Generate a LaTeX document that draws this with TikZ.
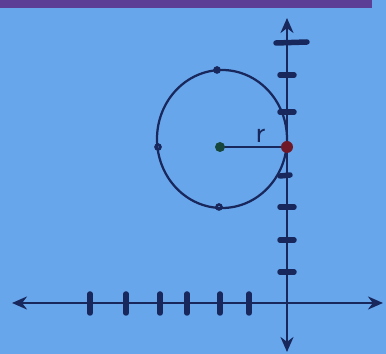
\documentclass[tikz,border=0pt]{standalone}
\usetikzlibrary{arrows.meta}
\definecolor{paper}{RGB}{104,166,236}
\definecolor{ink}{RGB}{24,40,92}
\definecolor{band}{RGB}{92,62,150}
\definecolor{reddot}{RGB}{110,24,40}
\definecolor{greendot}{RGB}{22,70,60}
\begin{document}
\begin{tikzpicture}[x=0.02cm,y=-0.02cm,line cap=round,
  axis/.style={ink,line width=0.5mm,-{Stealth[length=3mm,width=2.6mm]}},
  tick/.style={ink,line width=1.1mm}]
\fill[paper] (0,0) rectangle (386,354);
\useasboundingbox (0,0) rectangle (386,354);
\fill[band] (0,0) rectangle (372,8);
% axes
\coordinate (O) at (287,303);
\coordinate (xl) at (12,303);
\coordinate (xr) at (383,303);
\coordinate (yt) at (287,18);
\coordinate (yb) at (287,352);
\draw[axis] (O) to (xl);
\draw[axis] (O) to (xr);
\draw[axis] (O) to (yt);
\draw[axis] (O) to (yb);
\foreach \x in {90,126,160,187,220,249}
  \draw[tick] (\x,294) to (\x,313);
\draw[tick] (276,43) to (307,42);
\foreach \y in {75,112,207,240,272}
  \draw[tick] (280,\y) to (294,\y);
\draw[tick] (280,176) to (290,175);
% circle
\draw[ink,line width=0.45mm] (222,139) ellipse (65 and 69);
\coordinate (C) at (220,147);
\coordinate (P) at (287,147);
\draw[ink,line width=0.35mm] (C) to node[above,ink,font=\LARGE\sffamily,xshift=4pt,yshift=-1pt] {r} (P);
\fill[greendot] (C) circle (5);
\fill[reddot] (P) circle (6);
\foreach \p in {(217,70),(158,147),(219,207)}
  \draw[ink,line width=0.5mm] \p circle (2.5);
\end{tikzpicture}
\end{document}
